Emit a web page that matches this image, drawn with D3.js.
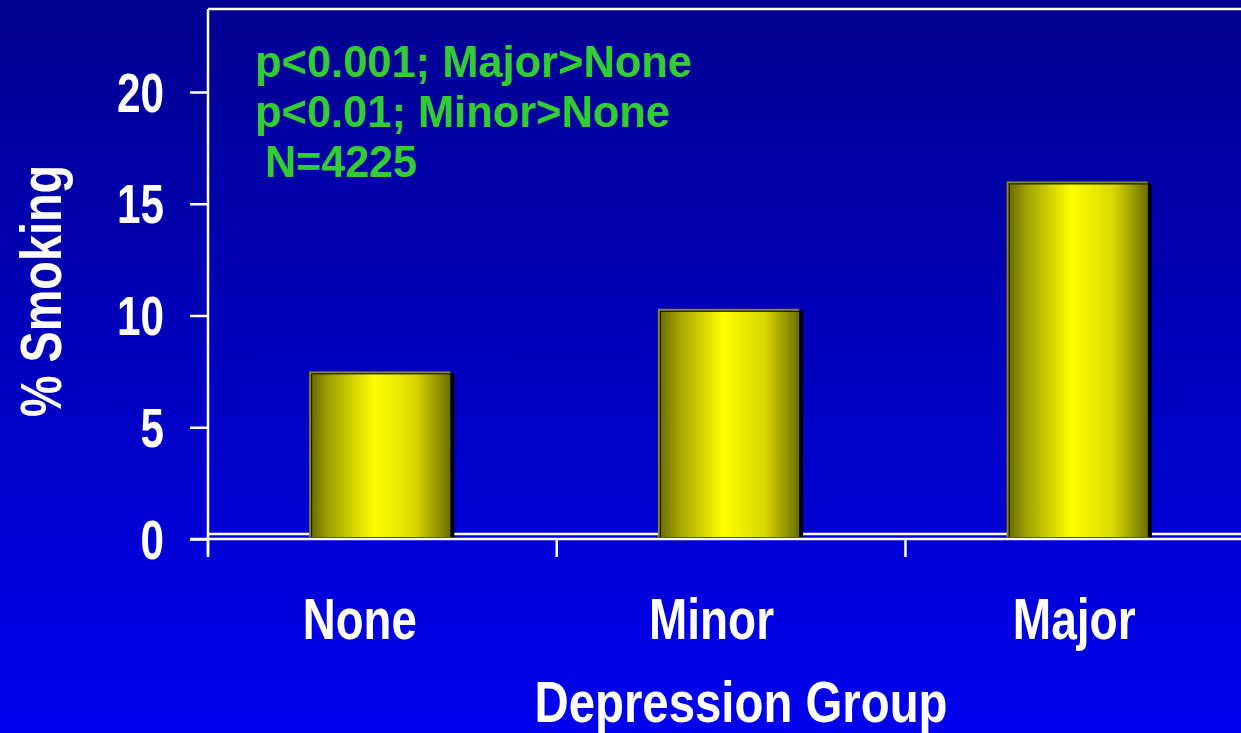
<!DOCTYPE html>
<html><head><meta charset="utf-8">
<script src="https://cdn.jsdelivr.net/npm/d3@7"></script>
<style>html,body{margin:0;padding:0;overflow:hidden;background:#0000c0}</style>
</head><body>
<svg id="chart" width="1241" height="733"></svg>
<script>
const categories = ["None", "Minor", "Major"];
const smokingPct = [7.5, 10.3, 16.0];
const yTicks = [0, 5, 10, 15, 20];
const notes = ["p<0.001; Major>None", "p<0.01; Minor>None", "N=4225"];

const W = 1241, H = 733;
const FONT = "'Liberation Sans Narrow', 'Arial Narrow', 'Liberation Sans', Arial, sans-serif";
const svg = d3.select("#chart");
const defs = svg.append("defs");
const bg = defs.append("linearGradient").attr("id","bg").attr("x1",0).attr("y1",0).attr("x2",0).attr("y2",1);
bg.append("stop").attr("offset","0%").attr("stop-color","#000090");
bg.append("stop").attr("offset","100%").attr("stop-color","#0000ee");
const barGrad = defs.append("linearGradient").attr("id","bar").attr("x1",0).attr("y1",0).attr("x2",1).attr("y2",0);
[[0,"#6e6e00"],[0.12,"#a0a000"],[0.45,"#ffff00"],[0.75,"#d8d800"],[1,"#6e6e00"]].forEach(([o,c])=>barGrad.append("stop").attr("offset",o).attr("stop-color",c));

svg.append("rect").attr("width",W).attr("height",H).attr("fill","url(#bg)");

const pLeft = 208, pTop = 9, pBottom = 539, pRight = 1249;
const x = d3.scaleBand().domain(categories).range([pLeft, pRight]).paddingInner(0.595).paddingOuter(0.29);
const y = d3.scaleLinear().domain([0, 20]).range([pBottom, 92]);

function squeeze(sel, w) {
  sel.attr("textLength", w).attr("lengthAdjust", "spacingAndGlyphs");
}

// frame
svg.append("line").attr("x1",pLeft).attr("x2",W).attr("y1",pTop).attr("y2",pTop).attr("stroke","#fff").attr("stroke-width",2.5);
svg.append("line").attr("x1",pLeft).attr("x2",W).attr("y1",pBottom-5).attr("y2",pBottom-5).attr("stroke","#fff").attr("stroke-width",2.5);

// bars
const g = svg.append("g");
categories.forEach((c,i)=>{
  const bx = x(c), bw = x.bandwidth(), by = y(smokingPct[i]);
  const base = pBottom - 2;
  g.append("rect").attr("x",bx).attr("y",by).attr("width",bw).attr("height",base-by).attr("fill","#8a8a00");
  g.append("rect").attr("x",bx+2).attr("y",by+2).attr("width",bw+2).attr("height",base-by-2).attr("fill","#000");
  g.append("rect").attr("x",bx+3).attr("y",by+3).attr("width",bw-3).attr("height",base-by-3).attr("fill","url(#bar)");
});

// y axis
const ya = svg.append("g").attr("transform",`translate(${pLeft},0)`)
  .call(d3.axisLeft(y).tickValues(yTicks).tickSize(18).tickPadding(26).tickFormat(d3.format("d")));
ya.select(".domain").remove();
ya.append("line").attr("x1",0).attr("x2",0).attr("y1",pTop).attr("y2",pBottom+18).attr("stroke","#fff").attr("stroke-width",2.5);
ya.selectAll(".tick line").attr("stroke","#fff").attr("stroke-width",2.5);
ya.selectAll(".tick text").attr("fill","#fff").attr("font-family",FONT).attr("font-weight","bold").attr("font-size",56)
  .attr("dy","0.34em").each(function(d){ squeeze(d3.select(this), String(d).length*23.5); });

// x axis
svg.append("line").attr("x1",pLeft-18).attr("x2",W).attr("y1",pBottom).attr("y2",pBottom).attr("stroke","#fff").attr("stroke-width",2.5);
const step = x.step();
[0,1,2].forEach(i=>{
  const tx = pLeft + i*step;
  svg.append("line").attr("x1",tx).attr("x2",tx).attr("y1",pBottom).attr("y2",pBottom+18).attr("stroke","#fff").attr("stroke-width",2.5);
});
const labelShift = [-20, -17, -3];
const labelWidth = [114, 125, 123];
svg.append("g").selectAll("text").data(categories).join("text")
  .attr("x",(d,i)=>x(d)+x.bandwidth()/2+labelShift[i]).attr("y",639)
  .attr("text-anchor","middle").attr("fill","#fff").attr("font-family",FONT).attr("font-weight","bold").attr("font-size",58)
  .text(d=>d).each(function(d,i){ squeeze(d3.select(this), labelWidth[i]); });

svg.append("text").attr("x",741).attr("y",722).attr("text-anchor","middle").attr("fill","#fff")
  .attr("font-family",FONT).attr("font-weight","bold").attr("font-size",57).text("Depression Group")
  .call(squeeze, 413);

svg.append("text").attr("transform","translate(61,291) rotate(-90)").attr("text-anchor","middle").attr("fill","#fff")
  .attr("font-family",FONT).attr("font-weight","bold").attr("font-size",58).text("% Smoking")
  .call(squeeze, 252);

const noteX = [255, 255, 265];
const noteW = [437, 415, 152];
svg.append("g").selectAll("text").data(notes).join("text")
  .attr("x",(d,i)=>noteX[i]).attr("y",(d,i)=>77+i*50).attr("fill","#33cc33")
  .attr("font-family",FONT).attr("font-weight","bold").attr("font-size",44).text(d=>d)
  .each(function(d,i){ squeeze(d3.select(this), noteW[i]); });
</script>
</body></html>
